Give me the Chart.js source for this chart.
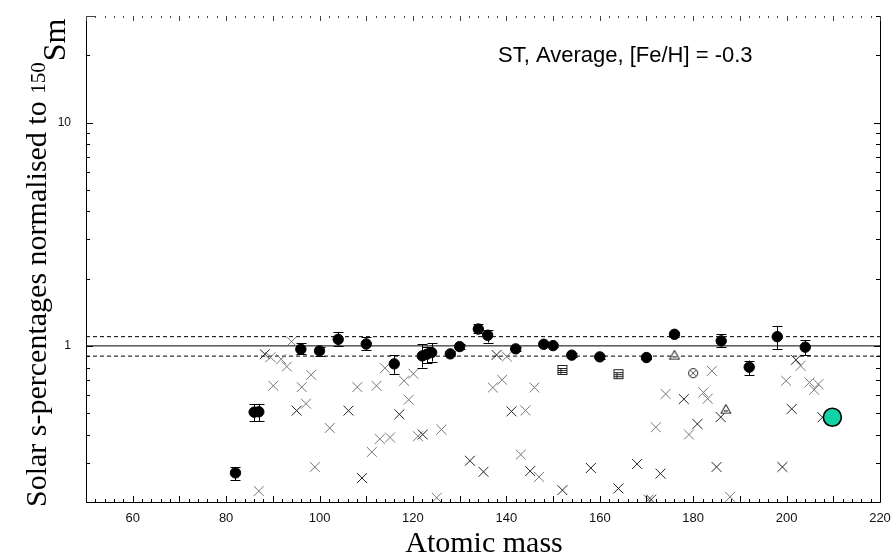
<!DOCTYPE html>
<html><head><meta charset="utf-8">
<script src="https://cdn.jsdelivr.net/npm/chart.js@4.4.1/dist/chart.umd.min.js"></script>
<style>html,body{margin:0;padding:0;background:#fff;}#wrap{width:895px;height:553px;}</style>
</head><body><div id="wrap"><canvas id="c" width="895" height="553"></canvas></div>
<script>
// ---- axis / tick labels ----
const xTickLabels = [60, 80, 100, 120, 140, 160, 180, 200, 220];
const yTickLabels = [1, 10];
const xRange = [50, 220];
const yRange = [0.2, 30];

// ---- reference lines ----
const refSolidY = [1.0];
const refDashedY = [1.1, 0.9];

// ---- measured s-process dots with error bars ----
const dotMass  = [82, 86, 87, 96, 100, 104, 110, 116, 122, 123, 124, 128, 130, 134, 136, 142, 148, 150, 154, 160, 170, 176, 186, 192, 198, 204];
const dotValue = [0.270, 0.505, 0.507, 0.966, 0.950, 1.070, 1.020, 0.831, 0.902, 0.918, 0.934, 0.921, 0.993, 1.190, 1.116, 0.970, 1.017, 1.003, 0.909, 0.893, 0.887, 1.127, 1.053, 0.803, 1.100, 0.987];
const dotLow   = [0.250, 0.460, 0.460, 0.921, 0.905, 1.000, 0.960, 0.750, 0.800, 0.837, 0.851, 0.900, 0.970, 1.140, 1.035, 0.950, 0.995, 0.985, 0.890, 0.875, 0.870, 1.100, 0.987, 0.740, 0.970, 0.909];
const dotHigh  = [0.287, 0.550, 0.550, 1.028, 0.993, 1.150, 1.094, 0.910, 1.020, 0.993, 1.028, 0.945, 1.015, 1.254, 1.180, 0.990, 1.040, 1.020, 0.930, 0.912, 0.905, 1.150, 1.128, 0.860, 1.230, 1.064];

// ---- other isotopes (crosses) ----
const grayCrossMass  = [87, 89.5, 90.1, 91.8, 93, 94, 96.2, 97.1, 98.2, 99, 102.2, 108.1, 111.2, 112.2, 112.9, 114, 115.1, 118.1, 119.1, 120.1, 121.1, 125.1, 126.1, 137.1, 139.1, 140.1, 143.1, 144.1, 146, 147, 170.4, 172, 174.1, 179.1, 182.2, 183.1, 184, 187.9, 199.9, 203, 204.9, 205.9, 206.8];
const grayCrossValue = [0.224, 0.890, 0.663, 0.872, 0.808, 1.045, 0.654, 0.551, 0.742, 0.287, 0.429, 0.654, 0.335, 0.663, 0.383, 0.795, 0.389, 0.698, 0.574, 0.750, 0.394, 0.209, 0.422, 0.651, 0.705, 0.896, 0.326, 0.514, 0.651, 0.259, 0.205, 0.432, 0.609, 0.401, 0.619, 0.580, 0.773, 0.211, 0.698, 0.814, 0.686, 0.636, 0.674];
const blackCrossMass  = [88.3, 95.1, 106.2, 109.1, 117.1, 122.1, 132.2, 135.1, 137.9, 141.1, 145.1, 152, 158.1, 164, 168, 171, 173, 178, 180.9, 185, 185.9, 199.1, 201.1, 202, 207.7];
const blackCrossValue = [0.918, 0.513, 0.513, 0.256, 0.494, 0.401, 0.306, 0.273, 0.911, 0.509, 0.275, 0.226, 0.284, 0.230, 0.296, 0.205, 0.268, 0.578, 0.447, 0.287, 0.480, 0.287, 0.522, 0.866, 0.479];

// ---- special symbols ----
const squareMass = [152, 164];
const squareValue = [0.780, 0.747];
const triangleMass = [176, 187];
const triangleValue = [0.911, 0.522];
const circCrossMass = [180];
const circCrossValue = [0.755];
const biMass = [209.8];
const biValue = [0.479];

const annotation = 'ST, Average, [Fe/H] = -0.3';
const xTitle = 'Atomic mass';
const yTitleMain = 'Solar s-percentages normalised to ';
const yTitleSup = '150';
const yTitleEl = 'Sm';

const pts = (xs, ys) => xs.map((v, i) => ({x: v, y: ys[i]}));
const hline = (v) => [{x: xRange[0], y: v}, {x: xRange[1], y: v}];
function mkCanvas(w, h, fn) { const c = document.createElement('canvas'); c.width = w; c.height = h; const g = c.getContext('2d'); fn(g); return c; }
const squareImg = mkCanvas(12, 12, g => {
  g.fillStyle = '#fff'; g.fillRect(1, 1, 10, 10);
  g.strokeStyle = '#222'; g.lineWidth = 1; g.strokeRect(1.5, 1.5, 9, 9);
  g.beginPath();
  g.moveTo(1.5, 4.5); g.lineTo(10.5, 4.5); g.moveTo(1.5, 6.5); g.lineTo(10.5, 6.5); g.moveTo(1.5, 8.5); g.lineTo(10.5, 8.5);
  g.moveTo(4.5, 4.5); g.lineTo(4.5, 10.5); g.stroke();
});
const triImg = mkCanvas(12, 11, g => {
  g.strokeStyle = '#000'; g.lineWidth = 1;
  g.beginPath(); g.moveTo(6, 1); g.lineTo(11, 10); g.lineTo(1, 10); g.closePath();
  g.fillStyle = '#fff'; g.fill(); g.stroke();
  g.beginPath(); g.moveTo(4, 7.5); g.lineTo(8, 7.5); g.stroke();
});
const circXImg = mkCanvas(12, 12, g => {
  g.strokeStyle = '#222'; g.lineWidth = 1;
  g.beginPath(); g.arc(6, 6, 4.6, 0, Math.PI * 2); g.fillStyle = '#fff'; g.fill(); g.stroke();
  g.strokeStyle = '#555'; g.beginPath(); g.moveTo(3, 3); g.lineTo(9, 9); g.moveTo(9, 3); g.lineTo(3, 9); g.stroke();
});

const errorBars = {
  id: 'errorBars',
  afterDatasetsDraw(chart) {
    const {ctx, scales: {x, y}} = chart;
    ctx.save(); ctx.strokeStyle = '#000'; ctx.lineWidth = 1; ctx.beginPath();
    dotMass.forEach((m, i) => {
      const px = Math.round(x.getPixelForValue(m)) + 0.5;
      const y1 = y.getPixelForValue(dotLow[i]), y2 = y.getPixelForValue(dotHigh[i]);
      ctx.moveTo(px, y1); ctx.lineTo(px, y2);
      ctx.moveTo(px - 5, Math.round(y1) + 0.5); ctx.lineTo(px + 5, Math.round(y1) + 0.5);
      ctx.moveTo(px - 5, Math.round(y2) + 0.5); ctx.lineTo(px + 5, Math.round(y2) + 0.5);
    });
    ctx.stroke(); ctx.restore();
  }
};

const frame = {
  id: 'frame',
  afterDraw(chart) {
    const {ctx, chartArea: a, scales: {x, y}} = chart;
    ctx.save();
    ctx.strokeStyle = '#000'; ctx.lineWidth = 1; ctx.beginPath();
    ctx.moveTo(a.left + 0.5, a.top); ctx.lineTo(a.left + 0.5, a.bottom + 0.5);
    ctx.lineTo(a.right + 0.5, a.bottom + 0.5); ctx.lineTo(a.right + 0.5, a.top);
    for (let v = xRange[0]; v <= xRange[1]; v += 2) {
      const px = Math.round(x.getPixelForValue(v)) + 0.5; const major = v % 10 === 0;
      ctx.moveTo(px, a.bottom); ctx.lineTo(px, a.bottom - (major ? 6 : 3));
    }
    for (let d = 0.1; d <= 10; d *= 10) {
      for (let k = 1; k <= 9; k++) {
        const v = d * k;
        if (v < yRange[0] - 1e-9 || v > yRange[1] + 1e-9) continue;
        const py = Math.round(y.getPixelForValue(v)) + 0.5;
        ctx.moveTo(a.left, py); ctx.lineTo(a.left + (k === 1 ? 7 : 4), py);
        ctx.moveTo(a.right, py); ctx.lineTo(a.right - (k === 1 ? 6 : 4), py);
      }
    }
    ctx.stroke();
    ctx.strokeStyle = '#444'; ctx.beginPath();
    for (let v = xRange[0]; v <= xRange[1]; v += 2) {
      const px = Math.round(x.getPixelForValue(v)) + 0.5; const major = v % 10 === 0;
      ctx.moveTo(px, a.top); ctx.lineTo(px, a.top + (major ? 5 : 2));
    }
    ctx.moveTo(a.left, a.top + 0.5); ctx.lineTo(a.left + 10, a.top + 0.5);
    ctx.stroke();

    ctx.fillStyle = '#000';
    ctx.font = '22px "Liberation Sans", Arial, sans-serif';
    ctx.textBaseline = 'middle'; ctx.textAlign = 'left';
    ctx.fillText(annotation, 498, 56);

    ctx.font = '30px "Liberation Serif", "Times New Roman", serif';
    ctx.textBaseline = 'alphabetic'; ctx.textAlign = 'center';
    ctx.fillText(xTitle, (a.left + a.right) / 2 + 1, 552);
    ctx.translate(46, 507); ctx.rotate(-Math.PI / 2);
    ctx.textAlign = 'left';
    ctx.fillText(yTitleMain, 0, 0);
    let w = ctx.measureText(yTitleMain).width;
    ctx.font = '21px "Liberation Serif", "Times New Roman", serif';
    ctx.fillText(yTitleSup, w, -1);
    w += ctx.measureText(yTitleSup).width + 1;
    ctx.font = '32px "Liberation Serif", "Times New Roman", serif';
    ctx.fillText(yTitleEl, w, 19);
    ctx.restore();
  }
};

new Chart(document.getElementById('c'), {
  type: 'scatter',
  data: {
    datasets: [
      {label: 'Bi', data: pts(biMass, biValue), pointStyle: 'circle', pointRadius: 9, backgroundColor: '#12D3A6', borderColor: '#000', borderWidth: 1.6},
      {label: 'square', data: pts(squareMass, squareValue), pointStyle: squareImg},
      {label: 'triangle', data: pts(triangleMass, triangleValue), pointStyle: triImg},
      {label: 'circcross', data: pts(circCrossMass, circCrossValue), pointStyle: circXImg},
      {label: 'dots', data: pts(dotMass, dotValue), pointStyle: 'circle', pointRadius: 5.2, backgroundColor: '#000', borderColor: '#000', borderWidth: 1},
      {label: 'blackX', data: pts(blackCrossMass, blackCrossValue), pointStyle: 'crossRot', pointRadius: 7, borderColor: '#222', borderWidth: 1},
      {label: 'grayX', data: pts(grayCrossMass, grayCrossValue), pointStyle: 'crossRot', pointRadius: 7, borderColor: '#777', borderWidth: 1},
      {label: 'solid', data: hline(refSolidY[0]), showLine: true, pointRadius: 0, borderColor: '#000', borderWidth: 1},
      {label: 'dash1', data: hline(refDashedY[0]), showLine: true, pointRadius: 0, borderColor: '#000', borderWidth: 1, borderDash: [4, 3]},
      {label: 'dash2', data: hline(refDashedY[1]), showLine: true, pointRadius: 0, borderColor: '#000', borderWidth: 1, borderDash: [4, 3]}
    ]
  },
  options: {
    responsive: false, animation: false, devicePixelRatio: 1,
    layout: {padding: {top: 16, right: 15, left: 0, bottom: 0}},
    plugins: {legend: {display: false}, tooltip: {enabled: false}},
    scales: {
      x: {
        type: 'linear', min: xRange[0], max: xRange[1],
        grid: {display: false, drawTicks: false, tickLength: 0}, border: {display: false},
        ticks: {autoSkip: false, maxRotation: 0, padding: 9, color: '#111', font: {family: '"Liberation Sans", Arial, sans-serif', size: 13}},
        afterBuildTicks: s => { s.ticks = xTickLabels.map(v => ({value: v})); },
        afterFit: s => { s.height = 51; s.paddingLeft = 0; s.paddingRight = 0; }
      },
      y: {
        type: 'logarithmic', min: yRange[0], max: yRange[1],
        grid: {display: false, drawTicks: false, tickLength: 0}, border: {display: false},
        ticks: {autoSkip: false, padding: 15, color: '#111', font: {family: '"Liberation Sans", Arial, sans-serif', size: 12}, callback: v => String(v)},
        afterBuildTicks: s => { s.ticks = yTickLabels.map(v => ({value: v})); },
        afterFit: s => { s.width = 86; s.paddingTop = 0; s.paddingBottom = 0; }
      }
    }
  },
  plugins: [errorBars, frame]
});
</script></body></html>
